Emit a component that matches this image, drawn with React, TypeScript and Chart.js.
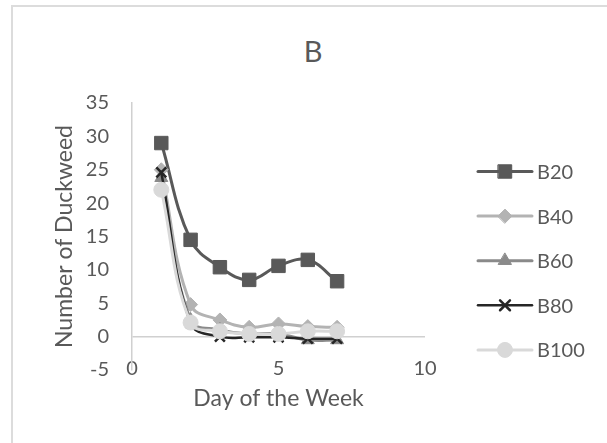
import React, { useEffect, useRef } from "react";
import { Chart, registerables } from "chart.js";
import { drawPoint } from "chart.js/helpers";

Chart.register(...registerables);

const days = [1, 2, 3, 4, 5, 6, 7];
const seriesNames = ["B20", "B40", "B60", "B80", "B100"];
const b20 = [29, 14.5, 10.4, 8.5, 10.6, 11.5, 8.3];
const b40 = [25, 4.8, 2.5, 1.4, 1.9, 1.5, 1.4];
const b60 = [23.8, 2.5, 1.0, 0.4, 0.4, -0.5, -0.5];
const b80 = [24.6, 2.0, 0, -0.1, -0.1, -0.3, -0.3];
const b100 = [22, 2.1, 0.8, 0.4, 0.4, 0.8, 0.8];
const xTicks = [0, 5, 10];
const yTicks = [-5, 0, 5, 10, 15, 20, 25, 30, 35];

const FONT = "Lato, 'Noto Sans', sans-serif";
const TEXT = "#595959";

const styles = [
  { color: "#595959", point: "rect", radius: 9.5, width: 3 },
  { color: "#b3b3b3", point: "rectRot", radius: 7, width: 3 },
  { color: "#8a8a8a", point: "triangle", radius: 7.5, width: 3 },
  { color: "#262626", point: "crossRot", radius: 7, width: 2.5 },
  { color: "#d9d9d9", point: "circle", radius: 7.5, width: 3 },
];

const legendPlugin = {
  id: "sideLegend",
  afterDraw(chart: any) {
    const ctx = chart.ctx;
    const x0 = 478;
    const x1 = 532;
    const yStart = 171.5;
    const step = 44.6;
    chart.data.datasets.forEach((ds: any, i: number) => {
      const y = yStart + i * step;
      ctx.save();
      ctx.strokeStyle = ds.borderColor;
      ctx.lineWidth = ds.borderWidth;
      ctx.lineCap = "round";
      ctx.beginPath();
      ctx.moveTo(x0, y);
      ctx.lineTo(x1, y);
      ctx.stroke();
      ctx.fillStyle = ds.pointBackgroundColor;
      ctx.strokeStyle = ds.pointBorderColor;
      ctx.lineWidth = ds.pointBorderWidth;
      drawPoint(ctx, { pointStyle: ds.pointStyle, radius: ds.pointRadius, rotation: 0, borderWidth: ds.pointBorderWidth }, (x0 + x1) / 2, y);
      ctx.restore();
      ctx.save();
      ctx.fillStyle = TEXT;
      ctx.font = `20px ${FONT}`;
      ctx.textBaseline = "middle";
      ctx.textAlign = "left";
      ctx.fillText(ds.label, 537, y + 1);
      ctx.restore();
    });
  },
};

export default function App() {
  const ref = useRef<HTMLCanvasElement | null>(null);
  useEffect(() => {
    if (!ref.current) return;
    const all = [b20, b40, b60, b80, b100];
    const chart = new Chart(ref.current, {
      type: "line",
      data: {
        datasets: all.map((vals, i) => ({
          label: seriesNames[i],
          data: days.map((d, j) => ({ x: d, y: vals[j] })),
          borderColor: styles[i].color,
          backgroundColor: styles[i].color,
          pointBackgroundColor: styles[i].color,
          pointBorderColor: styles[i].color,
          pointBorderWidth: styles[i].point === "crossRot" ? 2.5 : 1,
          borderWidth: styles[i].width,
          pointStyle: styles[i].point,
          pointRadius: styles[i].radius,
          tension: 0.4,
          fill: false,
          order: all.length - 1 - i,
        })),
      },
      plugins: [legendPlugin],
      options: {
        animation: false,
        responsive: false,
        maintainAspectRatio: false,
        events: [],
        layout: { padding: { left: 0, top: 103, right: 182, bottom: 0 } },
        plugins: {
          legend: { display: false },
          tooltip: { enabled: false },
          title: { display: false },
        },
        scales: {
          x: {
            type: "linear",
            min: 0,
            max: 10,
            afterBuildTicks: (s: any) => {
              s.ticks = xTicks.map((v) => ({ value: v }));
            },
            afterFit: (s: any) => {
              s.height = 73;
            },
            grid: { display: false, drawTicks: false },
            border: { display: false },
            ticks: {
              color: TEXT,
              font: { family: FONT, size: 20 },
              mirror: true,
              padding: -11,
              maxRotation: 0,
            },
            title: {
              display: true,
              text: "Day of the Week",
              color: TEXT,
              font: { family: FONT, size: 23 },
              padding: { top: 0, bottom: 31 },
            },
          },
          y: {
            type: "linear",
            min: -5,
            max: 35,
            afterBuildTicks: (s: any) => {
              s.ticks = yTicks.map((v) => ({ value: v }));
            },
            afterFit: (s: any) => {
              s.width = 132;
            },
            grid: {
              drawTicks: false,
              lineWidth: 1.5,
              color: (c: any) => (c.tick && c.tick.value === 0 ? "#d0d0d0" : "rgba(0,0,0,0)"),
            },
            border: { display: true, color: "#d0d0d0", width: 1.5 },
            ticks: {
              color: TEXT,
              font: { family: FONT, size: 20 },
              padding: 23,
            },
            title: {
              display: true,
              text: "Number of Duckweed",
              color: TEXT,
              font: { family: FONT, size: 23 },
              padding: { top: 51, bottom: 0 },
            },
          },
        },
      },
    } as any);
    return () => chart.destroy();
  }, []);

  return (
    <div style={{ position: "fixed", left: 0, top: 0, width: 607, height: 443, background: "#fff", overflow: "hidden" }}>
      <div
        style={{
          position: "absolute",
          left: 11,
          top: 5,
          width: 700,
          height: 600,
          border: "2px solid #dcdcdc",
          boxSizing: "border-box",
        }}
      />
      <div
        style={{
          position: "absolute",
          left: 0,
          top: 36,
          width: 626,
          textAlign: "center",
          fontFamily: FONT,
          fontSize: 29,
          color: TEXT,
          lineHeight: "30px",
        }}
      >
        B
      </div>
      <canvas ref={ref} width={607} height={443} style={{ position: "absolute", left: 0, top: 0, width: 607, height: 443 }} />
    </div>
  );
}
